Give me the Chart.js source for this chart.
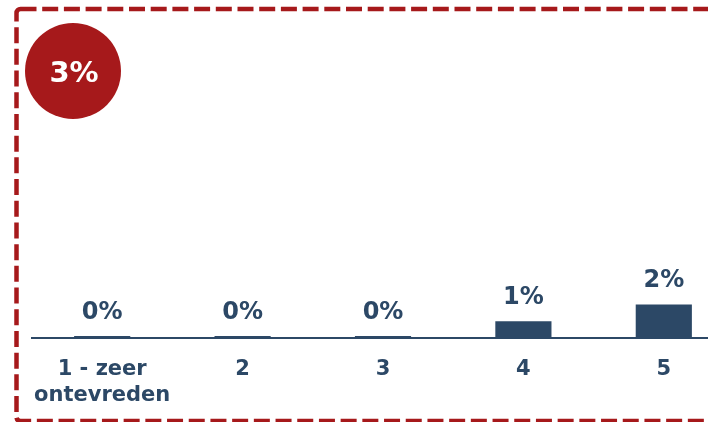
<!DOCTYPE html>
<html>
<head>
<meta charset="utf-8">
<script src="https://cdn.jsdelivr.net/npm/chart.js@4/dist/chart.umd.min.js"></script>
<style>
  html, body { margin: 0; padding: 0; background: #fff; overflow: hidden; }
  #wrap { position: relative; width: 740px; height: 422px; }
</style>
</head>
<body>
<div id="wrap"><canvas id="tevredenheid" width="740" height="422"></canvas></div>
<script>
const categorieen = [["1 - zeer", "ontevreden"], "2", "3", "4", "5"];
const percentages = [0, 0, 0, 1, 2];

const donkerblauw = "#2C4866";
const rood = "#A6191B";
const lettertype = "'DejaVu Sans', Verdana, sans-serif";

// rode stippellijn rond het blok
const kaderPlugin = {
  id: "kader",
  beforeDraw(chart) {
    const ctx = chart.ctx;
    ctx.save();
    ctx.strokeStyle = rood;
    ctx.lineWidth = 4.5;
    ctx.setLineDash([16, 5.7]);
    ctx.beginPath();
    ctx.roundRect(16.5, 9, 760, 412, 4);
    ctx.stroke();
    ctx.restore();
  }
};

// percentages boven de staven
const waardenPlugin = {
  id: "waarden",
  afterDatasetsDraw(chart) {
    const ctx = chart.ctx;
    const meta = chart.getDatasetMeta(0);
    ctx.save();
    ctx.fillStyle = donkerblauw;
    ctx.font = "bold 24px " + lettertype;
    ctx.textAlign = "center";
    ctx.textBaseline = "alphabetic";
    meta.data.forEach((staaf, i) => {
      ctx.fillText(percentages[i] + "%", staaf.x, staaf.y - 17);
    });
    ctx.restore();
  }
};

// totaal in de rode cirkel linksboven
const totaalPlugin = {
  id: "totaal",
  afterDraw(chart) {
    const ctx = chart.ctx;
    const totaal = percentages.reduce((a, b) => a + b, 0);
    ctx.save();
    ctx.fillStyle = rood;
    ctx.beginPath();
    ctx.arc(73, 71, 48, 0, Math.PI * 2);
    ctx.fill();
    ctx.fillStyle = "#fff";
    ctx.font = "bold 29px " + lettertype;
    ctx.textAlign = "center";
    ctx.textBaseline = "alphabetic";
    ctx.fillText(totaal + "%", 74, 82);
    ctx.restore();
  }
};

new Chart(document.getElementById("tevredenheid"), {
  type: "bar",
  data: {
    labels: categorieen,
    datasets: [{
      data: percentages,
      backgroundColor: donkerblauw,
      barPercentage: 0.4,
      categoryPercentage: 1,
      minBarLength: 2
    }]
  },
  options: {
    responsive: false,
    animation: false,
    layout: { padding: { left: 32, right: 6, top: 20, bottom: -6 } },
    plugins: {
      legend: { display: false },
      tooltip: { enabled: false }
    },
    scales: {
      x: {
        grid: { display: false, drawTicks: false },
        border: { color: donkerblauw, width: 2 },
        ticks: {
          color: donkerblauw,
          padding: 19,
          maxRotation: 0,
          font: { family: lettertype, size: 21, weight: "bold", lineHeight: 1.24 }
        }
      },
      y: {
        display: false,
        min: 0,
        max: 19
      }
    }
  },
  plugins: [kaderPlugin, waardenPlugin, totaalPlugin]
});
</script>
</body>
</html>
